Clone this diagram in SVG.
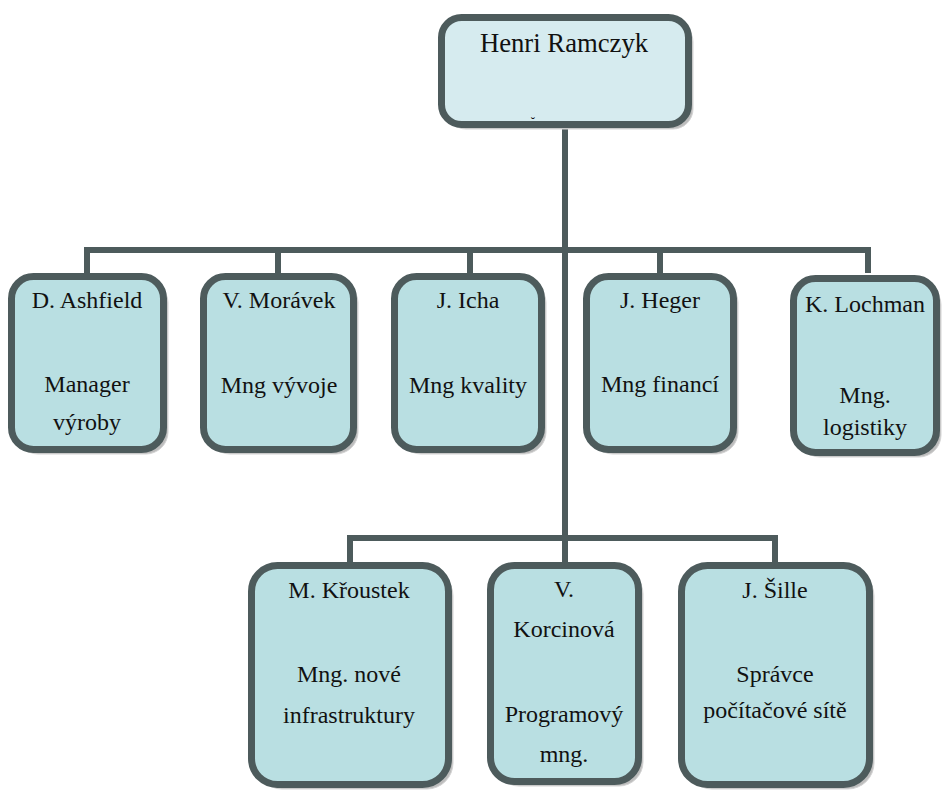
<svg xmlns="http://www.w3.org/2000/svg" width="942" height="790" viewBox="0 0 942 790">
<style>
.box{fill:#b9dfe2;stroke:#4d5b5c;stroke-width:7}
.top{fill:#d6ebef;stroke:#4d5b5c;stroke-width:7}
.sh{fill:#bdbdbd;stroke:#d4d4d4;stroke-width:1}
.ln{fill:none;stroke:#4d5b5c;stroke-width:6;stroke-linecap:butt}
.t{font-family:'Liberation Serif','Times New Roman',serif;font-size:24px;fill:#111;text-anchor:middle}
.big{font-size:26.7px}
.tiny{font-size:13px}
</style>
<rect width="942" height="790" fill="#fff"/>
<g id="connectors">
<path class="ln" d="M565 128V562"/>
<path class="ln" d="M87 273V250H868V273"/>
<path class="ln" d="M278 250V273M470 250V273M660 250V273"/>
<path class="ln" d="M350 562V538H775V562"/>
</g>
<g id="henri">
<rect class="sh" x="446" y="22" width="247" height="107" rx="20"/>
<rect class="top" x="441.5" y="17.5" width="247" height="107" rx="20"/>
<text class="t big" x="564" y="52">Henri Ramczyk</text>
<text class="t tiny" x="533" y="126">˘</text>
</g>
<g id="ashfield">
<rect class="sh" x="16" y="281" width="152" height="173" rx="22"/>
<rect class="box" x="11.5" y="276.5" width="152" height="173" rx="22"/>
<text class="t" x="87" y="308">D. Ashfield</text>
<text class="t" x="87" y="392">Manager</text>
<text class="t" x="87" y="430">výroby</text>
</g>
<g id="moravek">
<rect class="sh" x="208" y="281" width="150" height="173" rx="22"/>
<rect class="box" x="203.5" y="276.5" width="150" height="173" rx="22"/>
<text class="t" x="279" y="308">V. Morávek</text>
<text class="t" x="279" y="393">Mng vývoje</text>
</g>
<g id="icha">
<rect class="sh" x="399" y="281" width="147" height="173" rx="22"/>
<rect class="box" x="394.5" y="276.5" width="147" height="173" rx="22"/>
<text class="t" x="468" y="308">J. Icha</text>
<text class="t" x="468" y="393">Mng kvality</text>
</g>
<g id="heger">
<rect class="sh" x="591" y="281" width="147" height="173" rx="22"/>
<rect class="box" x="586.5" y="276.5" width="147" height="173" rx="22"/>
<text class="t" x="660" y="308">J. Heger</text>
<text class="t" x="660" y="392">Mng financí</text>
</g>
<g id="lochman">
<rect class="sh" x="798" y="283" width="143" height="174" rx="22"/>
<rect class="box" x="793.5" y="278.5" width="143" height="174" rx="22"/>
<text class="t" x="865" y="312">K. Lochman</text>
<text class="t" x="865" y="403">Mng.</text>
<text class="t" x="865" y="435">logistiky</text>
</g>
<g id="kroustek">
<rect class="sh" x="256" y="570" width="197" height="219" rx="26"/>
<rect class="box" x="251.5" y="565.5" width="197" height="219" rx="26"/>
<text class="t" x="349" y="598">M. Křoustek</text>
<text class="t" x="349" y="682">Mng. nové</text>
<text class="t" x="349" y="723">infrastruktury</text>
</g>
<g id="korcinova">
<rect class="sh" x="495" y="570" width="148" height="216" rx="24"/>
<rect class="box" x="490.5" y="565.5" width="148" height="216" rx="24"/>
<text class="t" x="564" y="597">V.</text>
<text class="t" x="564" y="637">Korcinová</text>
<text class="t" x="564" y="722">Programový</text>
<text class="t" x="564" y="762">mng.</text>
</g>
<g id="sille">
<rect class="sh" x="686" y="570" width="188" height="219" rx="26"/>
<rect class="box" x="681.5" y="565.5" width="188" height="219" rx="26"/>
<text class="t" x="775" y="598">J. Šille</text>
<text class="t" x="775" y="682">Správce</text>
<text class="t" x="775" y="718">počítačové sítě</text>
</g>
</svg>
